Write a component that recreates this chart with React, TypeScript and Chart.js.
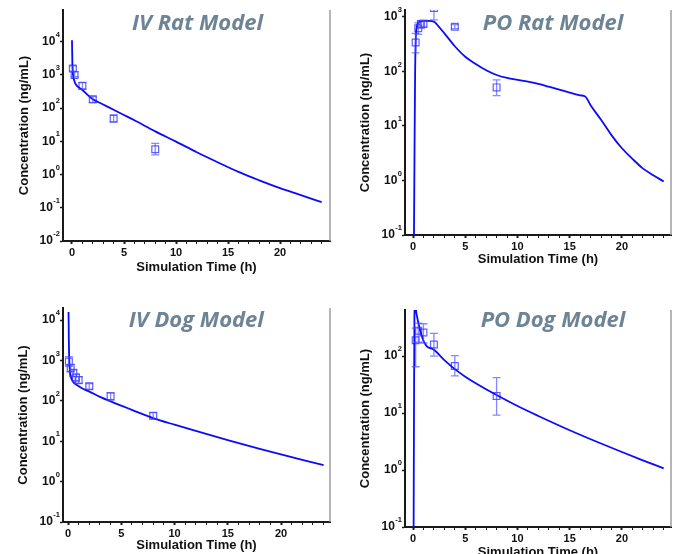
import React, { useEffect, useRef } from 'react';
import { Chart, registerables } from 'chart.js';
Chart.register(...registerables);

const FONT = '"Liberation Sans", Arial, Helvetica, sans-serif';
const TITLE_FONT = '"Open Sans", "Noto Sans", sans-serif';
const LINE_COLOR = '#0a0aff';
const MARK_COLOR = 'rgba(55,55,255,0.8)';
const ERR_COLOR = 'rgba(70,70,255,0.65)';
const TITLE_COLOR = '#6c8495';
const AXIS_COLOR = '#1a1a1a';

// ---------- IV Rat ----------
const ivRatLineT = [0, 0.04, 0.1, 0.2, 0.3, 0.5, 0.75, 1, 1.5, 2, 3, 4, 5, 6, 8, 10, 12, 14, 16, 18, 20, 22, 24];
const ivRatLineC = [11000, 2000, 1000, 700, 570, 460, 400, 350, 250, 186, 129, 89, 62, 43, 20, 9.8, 4.7, 2.35, 1.2, 0.67, 0.39, 0.24, 0.148];
const ivRatObsT = [0.083, 0.25, 1, 2, 4, 8];
const ivRatObsC = [1550, 1000, 470, 185, 48, 5.8];
const ivRatObsLo = [1300, 880, 370, 148, 39, 3.9];
const ivRatObsHi = [1860, 1260, 590, 224, 63, 8.7];
const ivRatYTicks = [0.01, 0.1, 1, 10, 100, 1000, 10000];

// ---------- PO Rat ----------
const poRatLineT = [0.08, 0.14, 0.2, 0.25, 0.3, 0.4, 0.5, 0.75, 1, 1.5, 2, 2.5, 3, 4, 5, 6, 7, 8, 9, 10, 11, 12, 13, 14, 15, 16, 16.5, 17, 18, 19, 20, 21, 22, 23, 24];
const poRatLineC = [0.05, 3, 100, 350, 550, 700, 780, 830, 845, 845, 820, 650, 500, 290, 186, 137, 105, 86, 76, 70, 65, 59, 52.5, 46.5, 41, 36.5, 34.5, 24, 13, 6.8, 3.9, 2.5, 1.67, 1.25, 0.96];
const poRatObsT = [0.25, 0.5, 0.75, 1, 2, 4, 8];
const poRatObsC = [340, 620, 740, 750, 1460, 660, 51];
const poRatObsLo = [220, 480, 620, 650, 880, 610, 36];
const poRatObsHi = [500, 780, 850, 860, 2000, 720, 70];
const poRatYTicks = [0.1, 1, 10, 100, 1000];

// ---------- IV Dog ----------
const ivDogLineT = [0.05, 0.08, 0.12, 0.18, 0.25, 0.35, 0.5, 0.75, 1, 1.5, 2, 3, 4, 5, 6, 8, 10, 12, 15, 18, 20, 22, 24];
const ivDogLineC = [16000, 3000, 1000, 550, 420, 340, 290, 255, 232, 195, 170, 126, 97, 76, 60, 37.5, 25.7, 18, 10.7, 6.5, 4.73, 3.47, 2.57];
const ivDogObsT = [0.083, 0.25, 0.5, 0.75, 1, 2, 4, 8];
const ivDogObsC = [950, 650, 490, 380, 330, 230, 130, 43];
const ivDogObsLo = [720, 520, 400, 310, 270, 195, 105, 36];
const ivDogObsHi = [1250, 800, 600, 460, 400, 270, 160, 51];
const ivDogYTicks = [0.1, 1, 10, 100, 1000, 10000];

// ---------- PO Dog ----------
const poDogLineT = [0.05, 0.1, 0.13, 0.18, 0.25, 0.3, 0.4, 0.5, 0.7, 1, 1.3, 2, 3, 4, 5, 6, 8, 10, 12, 15, 18, 20, 22, 24];
const poDogLineC = [0.05, 30, 400, 950, 900, 620, 480, 390, 275, 185, 150, 129, 85, 59, 43.6, 33.5, 20.7, 13.3, 8.9, 5.0, 2.92, 2.07, 1.48, 1.07];
const poDogObsT = [0.25, 0.5, 1, 2, 4, 8];
const poDogObsC = [190, 280, 260, 160, 67, 20];
const poDogObsLo = [65, 175, 170, 100, 45, 9.2];
const poDogObsHi = [310, 380, 370, 250, 102, 42];
const poDogYTicks = [0.1, 1, 10, 100];

type PanelSpec = {
  key: string;
  title: string;
  lineT: number[]; lineC: number[];
  obsT: number[]; obsC: number[]; obsLo: number[]; obsHi: number[];
  yTicks: number[];
  yMin: number; yMax: number; xMin: number; xMax: number;
  box: { left: number; top: number; width: number; height: number };
  area: { L: number; R: number; T: number; B: number };
  titlePos: { x: number; y: number };
  xTitlePad: number; yTitlePad: number;
};

const panels: PanelSpec[] = [
  {
    key: 'ivrat', title: 'IV Rat Model',
    lineT: ivRatLineT, lineC: ivRatLineC, obsT: ivRatObsT, obsC: ivRatObsC, obsLo: ivRatObsLo, obsHi: ivRatObsHi,
    yTicks: ivRatYTicks, yMin: 0.01, yMax: 90000, xMin: -0.865, xMax: 24.8,
    box: { left: 0, top: 0, width: 338, height: 280 },
    area: { L: 63, R: 8, T: 10, B: 39 },
    titlePos: { x: 197.5, y: 30 }, xTitlePad: 5, yTitlePad: 17,
  },
  {
    key: 'porat', title: 'PO Rat Model',
    lineT: poRatLineT, lineC: poRatLineC, obsT: poRatObsT, obsC: poRatObsC, obsLo: poRatObsLo, obsHi: poRatObsHi,
    yTicks: poRatYTicks, yMin: 0.1, yMax: 1340, xMin: -0.77, xMax: 24.7,
    box: { left: 338, top: 0, width: 339, height: 280 },
    area: { L: 67, R: 6, T: 10, B: 45 },
    titlePos: { x: 215, y: 30 }, xTitlePad: 13, yTitlePad: 20,
  },
  {
    key: 'ivdog', title: 'IV Dog Model',
    lineT: ivDogLineT, lineC: ivDogLineC, obsT: ivDogObsT, obsC: ivDogObsC, obsLo: ivDogObsLo, obsHi: ivDogObsHi,
    yTicks: ivDogYTicks, yMin: 0.1, yMax: 20000, xMin: -0.47, xMax: 24.6,
    box: { left: 0, top: 290, width: 338, height: 264 },
    area: { L: 63, R: 8, T: 18, B: 32 },
    titlePos: { x: 196.3, y: 36.7 }, xTitlePad: 1, yTitlePad: 16,
  },
  {
    key: 'podog', title: 'PO Dog Model',
    lineT: poDogLineT, lineC: poDogLineC, obsT: poDogObsT, obsC: poDogObsC, obsLo: poDogObsLo, obsHi: poDogObsHi,
    yTicks: poDogYTicks, yMin: 0.1, yMax: 645, xMin: -0.77, xMax: 24.7,
    box: { left: 338, top: 290, width: 339, height: 264 },
    area: { L: 67, R: 6, T: 20, B: 27 },
    titlePos: { x: 215, y: 36.7 }, xTitlePad: -6, yTitlePad: 20,
  },
];

function PanelChart({ p }: { p: PanelSpec }) {
  const ref = useRef<HTMLCanvasElement | null>(null);
  useEffect(() => {
    const canvas = ref.current;
    if (!canvas) return;
    const decor = {
      id: 'decor' + p.key,
      afterDatasetsDraw(chart: any) {
        const { ctx, chartArea } = chart;
        const xs = chart.scales.x;
        const ys = chart.scales.y;
        ctx.save();
        ctx.beginPath();
        ctx.rect(chartArea.left, chartArea.top, chartArea.right - chartArea.left, chartArea.bottom - chartArea.top);
        ctx.clip();
        ctx.strokeStyle = ERR_COLOR;
        ctx.lineWidth = 1.3;
        p.obsT.forEach((t, i) => {
          const x = xs.getPixelForValue(t);
          const yl = ys.getPixelForValue(p.obsLo[i]);
          const yh = ys.getPixelForValue(p.obsHi[i]);
          ctx.beginPath();
          ctx.moveTo(x, yl); ctx.lineTo(x, yh);
          ctx.moveTo(x - 4, yl); ctx.lineTo(x + 4, yl);
          ctx.moveTo(x - 4, yh); ctx.lineTo(x + 4, yh);
          ctx.stroke();
        });
        ctx.restore();
      },
      afterDraw(chart: any) {
        const { ctx, chartArea } = chart;
        const ys = chart.scales.y;
        ctx.save();
        // right frame line
        ctx.strokeStyle = '#9c9c9c';
        ctx.lineWidth = 1.5;
        ctx.beginPath();
        ctx.moveTo(chartArea.right, chartArea.top);
        ctx.lineTo(chartArea.right, chartArea.bottom);
        ctx.stroke();
        // y tick labels with superscripts
        ctx.fillStyle = '#111';
        ctx.textAlign = 'right';
        ctx.textBaseline = 'middle';
        ys.ticks.forEach((tk: any) => {
          const v = tk.value;
          const e = Math.round(Math.log10(v));
          const py = ys.getPixelForValue(v);
          const right = chartArea.left - 3;
          ctx.font = 'bold 7.5px ' + FONT;
          const expStr = String(e);
          const ew = ctx.measureText(expStr).width;
          ctx.fillText(expStr, right, py - 7);
          ctx.font = 'bold 12px ' + FONT;
          ctx.fillText('10', right - ew - 0.5, py);
        });
        // panel title
        ctx.font = 'italic bold 22px ' + TITLE_FONT;
        ctx.fillStyle = TITLE_COLOR;
        ctx.textAlign = 'center';
        ctx.textBaseline = 'alphabetic';
        ctx.fillText(p.title, p.titlePos.x, p.titlePos.y);
        ctx.restore();
      },
    };
    const chart = new Chart(canvas, {
      type: 'line',
      data: {
        datasets: [
          {
            type: 'line',
            data: p.lineT.map((t, i) => ({ x: t, y: p.lineC[i] })),
            borderColor: LINE_COLOR,
            borderWidth: 1.8,
            pointRadius: 0,
            fill: false,
            cubicInterpolationMode: 'monotone',
            clip: 0,
            order: 1,
          } as any,
          {
            type: 'scatter',
            data: p.obsT.map((t, i) => ({ x: t, y: p.obsC[i] })),
            pointStyle: 'rect',
            pointRadius: 4.8,
            borderColor: MARK_COLOR,
            backgroundColor: 'rgba(0,0,0,0)',
            borderWidth: 1.2,
            showLine: false,
            clip: 0,
            order: 2,
          } as any,
        ],
      },
      options: {
        responsive: false,
        maintainAspectRatio: false,
        animation: false,
        events: [],
        layout: { padding: { left: 0, right: p.area.R, top: p.area.T, bottom: 0 } },
        plugins: { legend: { display: false }, tooltip: { enabled: false } },
        scales: {
          x: {
            type: 'linear',
            min: p.xMin,
            max: p.xMax,
            ticks: {
              stepSize: 1,
              autoSkip: false,
              includeBounds: false,
              maxRotation: 0,
              padding: 2,
              color: '#111',
              font: { family: FONT, size: 11, weight: 'bold' },
              callback: (v: any) => (Number(v) % 5 === 0 && Number(v) >= 0 ? String(v) : ''),
            },
            grid: {
              drawOnChartArea: false,
              drawTicks: true,
              tickLength: 3,
              tickColor: AXIS_COLOR,
              tickWidth: (c: any) => (c.tick && c.tick.value % 5 === 0 ? 2 : 1),
            },
            border: { display: true, color: AXIS_COLOR, width: 2 },
            title: {
              display: true,
              text: 'Simulation Time (h)',
              color: '#111',
              font: { family: FONT, size: 13, weight: 'bold' },
              padding: { top: 0, bottom: p.xTitlePad },
            },
            afterFit: (s: any) => { s.height = p.area.B; },
          } as any,
          y: {
            type: 'logarithmic',
            min: p.yMin,
            max: p.yMax,
            afterBuildTicks: (s: any) => { s.ticks = p.yTicks.map((v) => ({ value: v, major: true })); },
            ticks: { display: false },
            grid: {
              drawOnChartArea: false,
              drawTicks: true,
              tickLength: 3,
              tickColor: AXIS_COLOR,
              tickWidth: 1.5,
            },
            border: { display: true, color: AXIS_COLOR, width: 2 },
            title: {
              display: true,
              text: 'Concentration (ng/mL)',
              color: '#111',
              font: { family: FONT, size: 13, weight: 'bold' },
              padding: { top: p.yTitlePad, bottom: 0 },
            },
            afterFit: (s: any) => { s.width = p.area.L; },
          } as any,
        },
      },
      plugins: [decor as any],
    });
    return () => chart.destroy();
  }, [p]);
  return (
    <canvas
      ref={ref}
      width={p.box.width}
      height={p.box.height}
      style={{ position: 'absolute', left: p.box.left, top: p.box.top, width: p.box.width, height: p.box.height }}
    />
  );
}

export default function App() {
  return (
    <div style={{ position: 'fixed', left: 0, top: 0, width: 677, height: 554, background: '#ffffff', overflow: 'hidden' }}>
      {panels.map((p) => (
        <PanelChart key={p.key} p={p} />
      ))}
    </div>
  );
}
